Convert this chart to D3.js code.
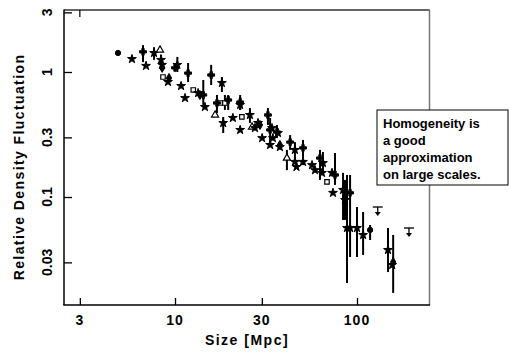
<!DOCTYPE html>
<html><head><meta charset="utf-8">
<script src="https://cdn.jsdelivr.net/npm/d3@7"></script>
<style>html,body{margin:0;padding:0;background:#fff;}svg{display:block;}</style>
</head><body>
<script>
// Data
const sizes  = [4.86,5.8,6.67,6.93,7.67,8.27,8.38,8.49,8.5,8.59,9.27,9.15,10.3,10.0,10.8,11.35,11.8,12.6,13.4,13.7,14.3,14.6,15.8,18.1,17.7,18.8,16.6,18.4,19.6,20.8,22.8,22.8,23.3,25.8,26.5,28.6,27.5,29.3,30.1,32.4,34.1,34.5,33.3,37.7,36.3,42.9,41.2,45.6,45.6,46.5,50.5,50.5,56.6,58.8,62.6,64.2,68.4,65.0,72.9,75.7,73.8,83.8,85.9,88.1,91.6,91.6,100,108,118,148,158,156,33.3,36.8,37.7,17.0,22.8];
const fluct  = [1.42,1.27,1.45,1.12,1.42,1.50,1.25,1.14,1.08,0.912,0.895,0.832,1.14,1.08,0.773,0.619,0.98,0.718,0.679,0.655,0.655,0.525,0.946,0.817,0.565,0.565,0.453,0.391,0.597,0.429,0.575,0.344,0.437,0.453,0.363,0.391,0.356,0.377,0.296,0.453,0.356,0.296,0.261,0.261,0.331,0.275,0.205,0.238,0.191,0.174,0.247,0.191,0.180,0.164,0.205,0.156,0.132,0.187,0.156,0.150,0.108,0.114,0.0946,0.0565,0.108,0.0565,0.0565,0.0497,0.0545,0.0377,0.0302,0.0286,0.344,0.325,0.251,0.565,0.545];
const errLo  = [null,null,1.20,null,1.25,null,1.14,null,null,null,null,null,1.0,null,null,null,0.832,null,null,null,0.545,null,0.787,0.692,null,0.497,null,0.325,0.497,null,0.497,null,null,0.391,null,null,null,null,null,0.377,null,null,null,null,0.296,0.238,0.164,0.198,null,null,0.180,null,null,null,0.137,null,null,0.150,null,0.125,null,0.0655,0.0655,0.0205,0.0331,null,0.0331,0.0344,0.0453,0.0251,0.0171,null,0.261,null,null,0.47,0.497];
const errHi  = [null,null,1.64,null,1.58,null,1.38,null,null,null,null,null,1.32,null,null,null,1.18,null,null,null,0.863,null,1.14,0.912,null,0.655,null,0.437,0.655,null,0.655,null,null,0.515,null,null,null,null,null,0.515,null,null,null,null,0.377,0.313,0.238,0.275,null,null,0.286,null,null,null,0.238,null,null,0.229,null,0.225,null,0.156,0.137,0.150,0.150,null,0.0832,0.0759,0.0597,0.0565,0.0497,null,0.429,null,null,0.655,0.631];
const markers = ["circle","star","cross","star","star","tri","star","star","diamond","square","diamond","star","star","cross","star","star","cross","square","star","diamond","cross","star","cross","star","square","square","tri","star","cross","star","cross","star","square","star","tri","star","star","diamond","star","cross","star","star","star","diamond","cross","cross","tri","star","star","star","cross","star","star","star","cross","star","square","star","star","cross","star","star","star","star","cross","star","star","star","circle","star","diamond","star","cross","star","star","cross","star"];
const limitSizes = [130, 193];
const limitFluct = [0.0832, 0.0565];
const xTicks = [3, 10, 30, 100];
const yTicks = [0.03, 0.1, 0.3, 1, 3];
const note = ["Homogeneity is", "a good", "approximation", "on large scales."];

const W = 509, H = 361;
const svg = d3.select("body").append("svg").attr("width", W).attr("height", H);
const x = d3.scaleLog().domain([2.455, 251.8]).range([64, 430]);
const y = d3.scaleLog().domain([0.01368, 3.133]).range([305, 10]);
const font = "'Liberation Sans', Arial, sans-serif";

// frame
svg.append("line").attr("x1",64).attr("x2",429.5).attr("y1",10).attr("y2",10).attr("stroke","#333").attr("stroke-width",1.5);
svg.append("line").attr("x1",429.5).attr("x2",429.5).attr("y1",9.5).attr("y2",305).attr("stroke","#777").attr("stroke-width",1.5);

// axes
const yAxis = d3.axisRight(y).tickValues(yTicks).tickSize(8).tickFormat("");
const gy = svg.append("g").attr("transform","translate(64,0)").call(yAxis);
gy.select(".domain").attr("d","M0,9.5V305").attr("stroke","#000").attr("stroke-width",1.5);
gy.selectAll(".tick line").attr("stroke","#000").attr("stroke-width",1.3);
const xAxis = d3.axisTop(x).tickValues(xTicks).tickSize(7).tickFormat("");
const gx = svg.append("g").attr("transform","translate(0,305)").call(xAxis);
gx.select(".domain").attr("d","M63.3,0H430").attr("stroke","#000").attr("stroke-width",1.5);
gx.selectAll(".tick line").attr("stroke","#000").attr("stroke-width",1.3);
// top tick at 3
svg.append("line").attr("x1",x(3)).attr("x2",x(3)).attr("y1",10).attr("y2",17).attr("stroke","#000").attr("stroke-width",1.2);

// tick labels
svg.selectAll(".ylab").data(yTicks).enter().append("text")
  .attr("transform", d => `translate(52,${y(d)}) rotate(-90)`)
  .attr("text-anchor","middle").attr("font-family",font).attr("font-weight","bold").attr("font-size",14)
  .text(d => d);
svg.selectAll(".xlab").data(xTicks).enter().append("text")
  .attr("x", d => x(d)).attr("y", 325).attr("text-anchor","middle")
  .attr("font-family",font).attr("font-weight","bold").attr("font-size",14).attr("letter-spacing",1)
  .text(d => d);

// axis titles
svg.append("text").attr("transform","translate(24,167) rotate(-90)").attr("text-anchor","middle")
  .attr("font-family",font).attr("font-weight","bold").attr("font-size",14).attr("letter-spacing",1.4)
  .text("Relative Density Fluctuation");
svg.append("text").attr("x",247).attr("y",345).attr("text-anchor","middle")
  .attr("font-family",font).attr("font-weight","bold").attr("font-size",14).attr("letter-spacing",1.5)
  .text("Size [Mpc]");

// error bars
const pts = sizes.map((s,i)=>({x:s,y:fluct[i],lo:errLo[i],hi:errHi[i],m:markers[i]}));
svg.append("g").selectAll("line").data(pts.filter(p=>p.lo!=null)).enter().append("line")
  .attr("x1",d=>x(d.x)).attr("x2",d=>x(d.x)).attr("y1",d=>y(d.lo)).attr("y2",d=>y(d.hi))
  .attr("stroke","#000").attr("stroke-width",2);

// markers
const symMap = {circle:d3.symbolCircle, star:d3.symbolStar, cross:d3.symbolCross, tri:d3.symbolTriangle, square:d3.symbolSquare, diamond:d3.symbolDiamond};
const sizeMap = {circle:22, star:24, cross:26, tri:22, square:20, diamond:24};
const openSet = new Set(["tri","square"]);
svg.append("g").selectAll("path").data(pts).enter().append("path")
  .attr("transform",d=>`translate(${x(d.x)},${y(d.y)})`)
  .attr("d",d=>d3.symbol().type(symMap[d.m]).size(sizeMap[d.m])())
  .attr("fill",d=>openSet.has(d.m)?"#fff":"#000")
  .attr("stroke","#000").attr("stroke-width",d=>openSet.has(d.m)?1.2:1);

// upper limits
const ul = limitSizes.map((s,i)=>({x:s,y:limitFluct[i]}));
const gul = svg.append("g").selectAll("g").data(ul).enter().append("g")
  .attr("transform",d=>`translate(${x(d.x)},${y(d.y)})`);
gul.append("line").attr("x1",-5).attr("x2",5).attr("y1",0).attr("y2",0).attr("stroke","#000").attr("stroke-width",1.3);
gul.append("line").attr("x1",0).attr("x2",0).attr("y1",0).attr("y2",6).attr("stroke","#000").attr("stroke-width",1.3);
gul.append("path").attr("d","M-3,5L3,5L0,9Z").attr("fill","#000");

// annotation box
svg.append("rect").attr("x",377).attr("y",110).attr("width",131).attr("height",75)
  .attr("fill","#fff").attr("stroke","#000").attr("stroke-width",1);
svg.append("g").selectAll("text").data(note).enter().append("text")
  .attr("x",383).attr("y",(d,i)=>128+i*17)
  .attr("font-family",font).attr("font-weight","bold").attr("font-size",13)
  .text(d=>d);
</script>
</body></html>
